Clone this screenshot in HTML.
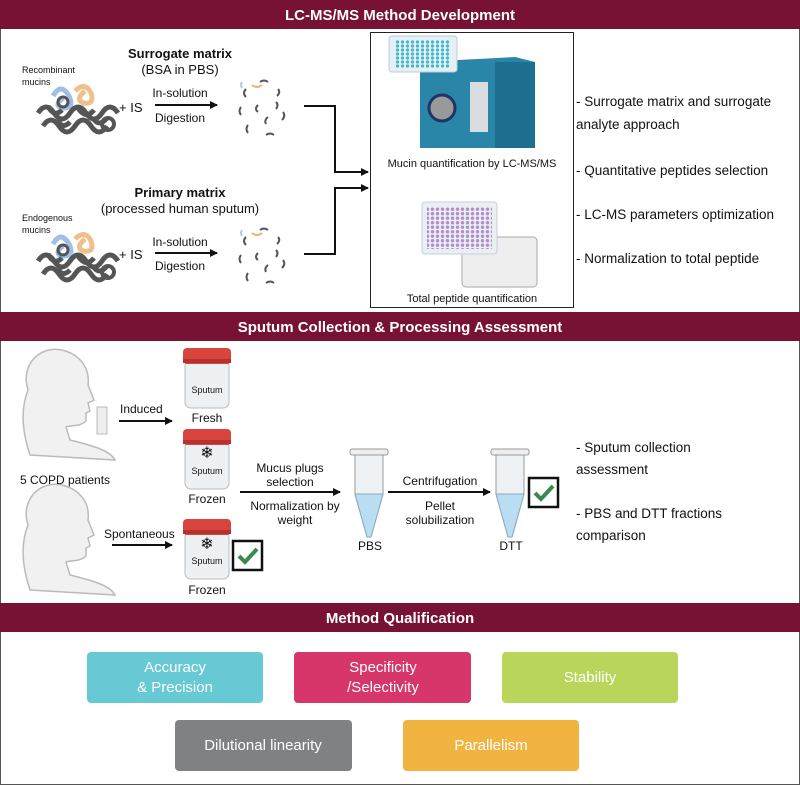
<!DOCTYPE html>
<html><head><meta charset="utf-8"><style>
html,body{margin:0;padding:0;background:#fff}
svg{display:block}
text{font-family:"Liberation Sans",sans-serif;fill:#111}
.t{fill:#fff;font-weight:bold;font-size:15px}
.q{fill:#fff;font-size:15px}
</style></head><body>
<svg width="800" height="785" viewBox="0 0 800 785" xmlns="http://www.w3.org/2000/svg">
<defs>
<marker id="a" markerWidth="8" markerHeight="8" refX="7" refY="4" orient="auto" markerUnits="userSpaceOnUse"><path d="M0,0 L8,4 L0,8 z" fill="#111"/></marker>
<g id="mucin" fill="none" stroke-width="5">
<path d="M15,8 q8,-14 16,0 q6,12 -6,12 q-10,-2 0,-10" stroke="#9fbfe6"/>
<path d="M37,3 q10,-10 16,2 q4,12 -8,10 q-8,-4 2,-12" stroke="#f0c08c"/>
<path d="M0,25 q8,-12 16,0 q8,12 16,0 q8,-12 16,0 q8,12 16,0 q8,-12 16,0" stroke="#555"/>
<path d="M5,38 q8,-12 16,0 q8,12 16,0 q8,-12 16,0 q8,12 16,0" stroke="#555"/>
<path d="M10,18 q6,12 14,4 M40,20 q8,12 16,2 M20,32 q4,10 12,2 M55,30 q6,10 14,0" stroke="#555"/>
<circle cx="25" cy="14" r="5" stroke="#555" stroke-width="3"/>
<circle cx="70" cy="36" r="6" stroke="#555" stroke-width="4"/>
</g>
<g id="frag" fill="none" stroke="#555" stroke-width="2">
<path d="M8,12 q-4,4 0,8 M22,5 q4,-3 8,0 M40,12 q3,3 -1,7 M3,30 q-3,4 0,8 M20,28 q-4,4 0,7 M38,25 q3,3 0,7 M45,35 q3,4 -1,8 M30,40 q-4,3 -2,7 M10,48 q-3,4 0,8 M28,58 q4,-3 8,0"/>
<path d="M4,5 q-2,3 0,6" stroke="#b8c8e0"/><path d="M14,8 q5,4 10,0" stroke="#f0b070"/>
</g>
<g id="jar">
<rect x="2" y="12" width="44" height="48" rx="6" fill="#eef1f3" stroke="#bbb"/>
<rect x="0" y="0" width="48" height="16" rx="4" fill="#d8453f"/>
<rect x="0" y="11" width="48" height="4" fill="#b5322d"/>
<text x="24" y="45" font-size="9" text-anchor="middle">Sputum</text>
</g>
<g id="tube">
<rect x="0" y="0" width="38" height="6" rx="2" fill="#eee" stroke="#999"/>
<path d="M5,6 L33,6 L33,45 L21,88 L17,88 L5,45 z" fill="#eef2f5" stroke="#999"/>
<path d="M5,45 L33,45 L21,88 L17,88 z" fill="#b9ddf2" stroke="#8ab"/>
</g>
<g id="chk"><rect x="0" y="0" width="29" height="29" fill="#fff" stroke="#111" stroke-width="2.5"/><path d="M6,15 L12,21 L24,8" fill="none" stroke="#3a8a4e" stroke-width="4"/></g>
<g id="head" fill="#f1f1f1" stroke="#bbb" stroke-width="1.5">
<path d="M30,110 C20,80 22,60 28,45 C20,20 40,0 62,5 C82,10 90,25 88,40 L94,55 L88,58 L90,66 L86,68 L86,76 C80,82 70,80 66,82 L70,95 C90,100 110,105 115,115 Z"/>
</g>
<pattern id="dots" width="5" height="4" patternUnits="userSpaceOnUse"><circle cx="2.5" cy="2" r="1.6" fill="#3fb6cc"/></pattern>
<pattern id="pdots" width="5" height="4.5" patternUnits="userSpaceOnUse"><circle cx="2.5" cy="2.2" r="1.7" fill="#a874c4"/></pattern>
</defs>
<rect x="0.5" y="0.5" width="799" height="784" fill="#fff" stroke="#555"/>
<rect x="0" y="0" width="800" height="29" fill="#771235"/>
<text class="t" x="400" y="20" text-anchor="middle">LC-MS/MS Method Development</text>
<rect x="0" y="312" width="800" height="29" fill="#771235"/>
<text class="t" x="400" y="332" text-anchor="middle">Sputum Collection &amp; Processing Assessment</text>
<rect x="0" y="603" width="800" height="29" fill="#771235"/>
<text class="t" x="400" y="623" text-anchor="middle">Method Qualification</text>

<!-- Section 1 -->
<text x="180" y="58" font-size="13" font-weight="bold" text-anchor="middle">Surrogate matrix</text>
<text x="180" y="74" font-size="13" text-anchor="middle">(BSA in PBS)</text>
<text x="22" y="73" font-size="9">Recombinant</text><text x="22" y="85" font-size="9">mucins</text>
<use href="#mucin" x="38" y="88"/>
<text x="119" y="112" font-size="13">+ IS</text>
<line x1="155" y1="105" x2="217" y2="105" stroke="#111" stroke-width="2" marker-end="url(#a)"/>
<text x="180" y="97" font-size="12" text-anchor="middle">In-solution</text>
<text x="180" y="122" font-size="12" text-anchor="middle">Digestion</text>
<use href="#frag" x="238" y="77"/>
<text x="180" y="197" font-size="13" font-weight="bold" text-anchor="middle">Primary matrix</text>
<text x="180" y="213" font-size="13" text-anchor="middle">(processed human sputum)</text>
<text x="22" y="221" font-size="9">Endogenous</text><text x="22" y="233" font-size="9">mucins</text>
<use href="#mucin" x="38" y="236"/>
<text x="119" y="259" font-size="13">+ IS</text>
<line x1="155" y1="253" x2="217" y2="253" stroke="#111" stroke-width="2" marker-end="url(#a)"/>
<text x="180" y="246" font-size="12" text-anchor="middle">In-solution</text>
<text x="180" y="270" font-size="12" text-anchor="middle">Digestion</text>
<use href="#frag" x="238" y="225"/>
<path d="M304,106 L335,106 L335,172 L368,172" fill="none" stroke="#111" stroke-width="2" marker-end="url(#a)"/>
<path d="M304,254 L335,254 L335,188 L368,188" fill="none" stroke="#111" stroke-width="2" marker-end="url(#a)"/>
<rect x="370.5" y="32.5" width="203" height="275" fill="#fff" stroke="#222"/>
<path d="M420,62 L515,57 L535,62 L535,148 L420,148 z" fill="#2a86a8"/>
<rect x="495" y="62" width="40" height="86" fill="#1e6f8f"/>
<rect x="470" y="82" width="18" height="50" fill="#d9dde0"/>
<circle cx="442" cy="108" r="13" fill="#999" stroke="#236" stroke-width="3"/>
<rect x="389" y="36" width="68" height="36" rx="3" fill="#e4f0f3" stroke="#bcd"/>
<rect x="395" y="40" width="56" height="28" fill="url(#dots)"/>
<text x="472" y="167" font-size="11" text-anchor="middle">Mucin quantification by LC-MS/MS</text>
<rect x="462" y="237" width="75" height="50" rx="4" fill="#eee" stroke="#aaa"/>
<rect x="422" y="202" width="75" height="52" rx="3" fill="#e8f0f2" stroke="#ccd"/>
<rect x="427" y="207" width="65" height="42" fill="url(#pdots)" opacity="0.8"/>
<text x="472" y="302" font-size="11" text-anchor="middle">Total peptide quantification</text>
<g font-size="13.5"><text x="576" y="106">- Surrogate matrix and surrogate</text><text x="576" y="129">analyte approach</text>
<text x="576" y="175">- Quantitative peptides selection</text>
<text x="576" y="219">- LC-MS parameters optimization</text>
<text x="576" y="263">- Normalization to total peptide</text></g>

<!-- Section 2 -->
<use href="#head" x="0" y="345"/>
<rect x="97" y="407" width="10" height="27" fill="#eee" stroke="#bbb"/>
<use href="#head" x="0" y="480"/>
<text x="20" y="484" font-size="12">5 COPD patients</text>
<text x="120" y="413" font-size="12">Induced</text>
<line x1="119" y1="421" x2="172" y2="421" stroke="#111" stroke-width="2" marker-end="url(#a)"/>
<use href="#jar" x="183" y="348"/><text x="207" y="422" font-size="12" text-anchor="middle">Fresh</text>
<use href="#jar" x="183" y="429"/><text x="207" y="458" font-size="16" fill="#3aa6dd" text-anchor="middle">❄</text><text x="207" y="503" font-size="12" text-anchor="middle">Frozen</text>
<use href="#jar" x="183" y="519"/><text x="207" y="549" font-size="16" fill="#3aa6dd" text-anchor="middle">❄</text><text x="207" y="594" font-size="12" text-anchor="middle">Frozen</text>
<use href="#chk" x="233" y="541"/>
<text x="104" y="538" font-size="12">Spontaneous</text>
<line x1="112" y1="545" x2="172" y2="545" stroke="#111" stroke-width="2" marker-end="url(#a)"/>
<line x1="240" y1="492" x2="340" y2="492" stroke="#111" stroke-width="2" marker-end="url(#a)"/>
<g font-size="12" text-anchor="middle"><text x="290" y="472">Mucus plugs</text><text x="290" y="486">selection</text><text x="295" y="510">Normalization by</text><text x="295" y="524">weight</text>
<text x="440" y="485">Centrifugation</text><text x="440" y="510">Pellet</text><text x="440" y="524">solubilization</text>
<text x="370" y="550">PBS</text><text x="511" y="550">DTT</text></g>
<use href="#tube" x="350" y="449"/>
<line x1="388" y1="492" x2="490" y2="492" stroke="#111" stroke-width="2" marker-end="url(#a)"/>
<use href="#tube" x="491" y="449"/>
<use href="#chk" x="529" y="478"/>
<g font-size="13.5"><text x="576" y="452">- Sputum collection</text><text x="576" y="474">assessment</text>
<text x="576" y="518">- PBS and DTT fractions</text><text x="576" y="540">comparison</text></g>

<!-- Section 3 -->
<rect x="87" y="652" width="176" height="51" rx="4" fill="#66c9d3"/>
<text class="q" x="175" y="672" text-anchor="middle">Accuracy</text><text class="q" x="175" y="692" text-anchor="middle">&amp; Precision</text>
<rect x="294" y="652" width="177" height="51" rx="4" fill="#d6366a"/>
<text class="q" x="383" y="672" text-anchor="middle">Specificity</text><text class="q" x="383" y="692" text-anchor="middle">/Selectivity</text>
<rect x="502" y="652" width="176" height="51" rx="4" fill="#b9d65b"/>
<text class="q" x="590" y="682" text-anchor="middle">Stability</text>
<rect x="175" y="720" width="177" height="51" rx="4" fill="#7e8285"/>
<text class="q" x="263" y="750" text-anchor="middle">Dilutional linearity</text>
<rect x="403" y="720" width="176" height="51" rx="4" fill="#f2b441"/>
<text class="q" x="491" y="750" text-anchor="middle">Parallelism</text>
</svg>
</body></html>
